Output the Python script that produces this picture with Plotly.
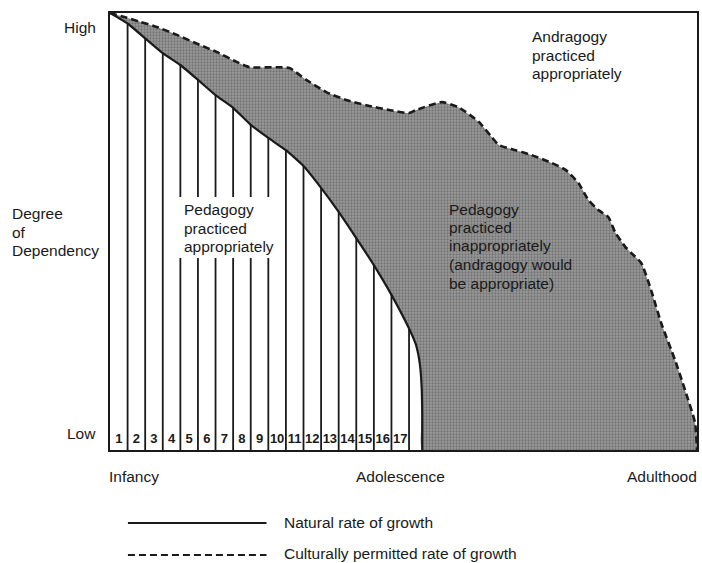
import plotly.graph_objects as go

# ---- data (x: years of age, y: degree of dependency 0=Low .. 100=High) ----
natural_x = [0, 1, 2, 3, 4, 5, 6, 7, 8, 9, 10, 11, 12, 13, 14, 15, 16, 17, 17.4, 17.62, 17.72, 17.75, 17.75]
natural_y = [100, 97.6, 94.2, 90.8, 88.1, 84.7, 81.2, 78.3, 74.4, 71.4, 68.6, 65.0, 60.0, 54.5, 48.5, 42.3, 35.5, 27.8, 24.0, 19.5, 14.0, 8.0, 0]

cultural_x = [0, 0.96, 1.70, 2.66, 3.80, 5.10, 6.06, 7.20, 7.93, 9.46, 10.2, 11.16, 12.29, 13.43, 14.56,
              15.86, 17.0, 17.4, 18.87, 19.83, 20.96, 21.7, 22.1, 23.06, 23.96, 25.1, 25.9, 26.63, 27.2,
              27.76, 28.33, 28.73, 29.29, 29.63, 30.2, 30.76, 31.33, 32.12, 32.69, 33.26, 33.37]
cultural_y = [100, 98.9, 98.0, 96.8, 95.0, 92.7, 91.1, 88.8, 87.6, 87.6, 87.4, 84.7, 81.9, 80.1, 78.9,
              77.8, 77.1, 77.8, 79.6, 78.4, 75.1, 71.6, 69.8, 68.6, 67.5, 65.7, 64.1, 61.1, 57.2,
              54.9, 53.3, 49.7, 46.5, 45.1, 42.8, 36.6, 29.1, 20.6, 13.7, 6.2, 0]

ages = list(range(1, 18))
age_labels = [str(a) for a in ages]
age_tops = natural_y[1:18]

x_max = 33.37
FONT = "Liberation Sans, Arial, Helvetica, sans-serif"
INK = "#1a1a1a"
FS = 15.5
LH = 18.5  # line height in px

# plot area in pixels: x 110..699, y 13..450
def px2x(px):
    return (px - 110) / 589

def px2y(py):
    return (450 - py) / 437

fig = go.Figure()

# shaded area between natural and culturally permitted curves
poly_x = cultural_x + natural_x[::-1]
poly_y = cultural_y + natural_y[::-1]
fig.add_trace(go.Scatter(
    x=poly_x, y=poly_y, mode="lines", fill="toself",
    fillcolor="#8e8e8e",
    fillpattern=dict(shape=".", bgcolor="#9a9a9a", fgcolor="#4e4e4e", size=3, solidity=0.45),
    line=dict(width=0, shape="spline", smoothing=0.4), hoverinfo="skip", showlegend=False))

# vertical year lines up to the natural curve
vx, vy = [], []
for a, t in zip(ages, age_tops):
    vx += [a, a, None]
    vy += [0, t, None]
fig.add_trace(go.Scatter(x=vx, y=vy, mode="lines", line=dict(color=INK, width=1.8),
                         hoverinfo="skip", showlegend=False))

# natural rate of growth
fig.add_trace(go.Scatter(x=natural_x, y=natural_y, mode="lines",
                         line=dict(color=INK, width=2.2, shape="spline", smoothing=0.4),
                         hoverinfo="skip", showlegend=False))
# culturally permitted rate of growth
fig.add_trace(go.Scatter(x=cultural_x, y=cultural_y, mode="lines",
                         line=dict(color=INK, width=2.6, dash="7px,4px", shape="spline", smoothing=0.5),
                         hoverinfo="skip", showlegend=False))

# year labels in columns
fig.add_trace(go.Scatter(x=[a - 0.5 for a in ages], y=[(450 - 440) / 437 * 100] * len(ages), mode="text",
                         text=["<b>%s</b>" % s for s in age_labels],
                         textfont=dict(family=FONT, size=13, color=INK),
                         hoverinfo="skip", showlegend=False))

ann = []
def txt(px, py, lines, xa="left", size=FS):
    n = len(lines)
    for i, s in enumerate(lines):
        cy = py + (i - (n - 1) / 2) * LH
        ann.append(dict(x=px2x(px), y=px2y(cy), xref="paper", yref="paper", text=s, showarrow=False,
                        xanchor=xa, yanchor="middle", font=dict(family=FONT, size=size, color=INK)))

txt(98, 27, ["High"], xa="right")
txt(98, 433, ["Low"], xa="right")
txt(10, 232, ["Degree", "of", "Dependency"])
txt(107, 477, ["Infancy"])
txt(401, 477, ["Adolescence"], xa="center")
txt(701, 477, ["Adulthood"], xa="right")
txt(182, 228, ["Pedagogy", "practiced", "appropriately"])
txt(531, 55, ["Andragogy", "practiced", "appropriately"])
txt(448, 246, ["Pedagogy", "practiced", "inappropriately", "(andragogy would", "be appropriate)"])
txt(283, 522, ["Natural rate of growth"])
txt(283, 553, ["Culturally permitted rate of growth"])

shapes = [
    # white panel behind the "Pedagogy practiced appropriately" label
    dict(type="rect", xref="paper", yref="paper", x0=px2x(177), x1=px2x(280), y0=px2y(258), y1=px2y(197),
         fillcolor="white", line=dict(width=0), layer="above"),
    dict(type="line", xref="paper", yref="paper", x0=px2x(128), x1=px2x(267), y0=px2y(523), y1=px2y(523),
         line=dict(color=INK, width=2.2)),
    dict(type="line", xref="paper", yref="paper", x0=px2x(128), x1=px2x(267), y0=px2y(555), y1=px2y(555),
         line=dict(color=INK, width=2.2, dash="7px,4px")),
]

fig.update_layout(
    width=702, height=563, autosize=False,
    margin=dict(l=110, r=3, t=13, b=113),
    paper_bgcolor="white", plot_bgcolor="white",
    annotations=ann, shapes=shapes,
    xaxis=dict(range=[0, x_max], showgrid=False, zeroline=False, showticklabels=False, ticks="",
               showline=True, mirror=True, linecolor=INK, linewidth=2),
    yaxis=dict(range=[0, 100], showgrid=False, zeroline=False, showticklabels=False, ticks="",
               showline=True, mirror=True, linecolor=INK, linewidth=2),
)

fig.write_html("out.html", config={"displayModeBar": False},
               post_script="document.body.style.margin='0';document.body.style.overflow='hidden';")
